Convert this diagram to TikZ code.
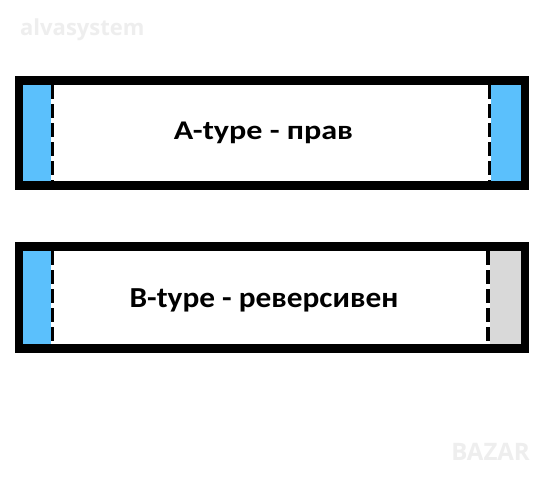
\documentclass[tikz,border=0pt]{standalone}
\usepackage{fontspec}
\setmainfont{Carlito}
\newfontfamily\wmfont{Open Sans}
\newfontfamily\fontA[FakeStretch=1.19]{Carlito}
\newfontfamily\fontB[FakeStretch=1.08]{Carlito}
\definecolor{skyfill}{RGB}{91,192,252}
\definecolor{grayfill}{RGB}{217,217,217}
\definecolor{wmgray}{RGB}{238,238,238}
\begin{document}
\begin{tikzpicture}[x=1pt,y=-1pt,
  frame/.style={draw=black,line width=8.5pt,fill=none},
  dashline/.style={draw=black,line width=3.5pt,dash pattern=on 14pt off 5pt},
  label/.style={inner sep=0pt,anchor=base},
  wm/.style={text=wmgray,font=\wmfont\bfseries\fontsize{22}{26}\selectfont,inner sep=0pt}]
\useasboundingbox (0,0) rectangle (542,480);
\fill[white] (0,0) rectangle (542,480);
% watermark
\node[wm,anchor=west] (wmA) at (20,30) {alvasystem};
\node[wm,anchor=east,font=\wmfont\bfseries\fontsize{24}{28}\selectfont] (wmB) at (530,452) {BAZAR};
% Box A
\fill[skyfill] (23,85) rectangle (51,181) coordinate (aLblue);
\fill[skyfill] (491,85) rectangle (521,181) coordinate (aRblue);
\coordinate (aL1) at (52.5,85); \coordinate (aL2) at (52.5,181);
\coordinate (aR1) at (489.5,85); \coordinate (aR2) at (489.5,181);
\draw[dashline] (aL1) -- (aL2);
\draw[dashline] (aR1) -- (aR2);
\node[frame,minimum width=506pt,minimum height=105pt,inner sep=0pt] (boxA) at (272,133) {};
\node[label,font=\fontA\bfseries\fontsize{27}{32}\selectfont] (txtA) at (263.5,139.3) {A-type - прав};
% Box B
\fill[skyfill] (23,251) rectangle (51,344);
\fill[grayfill] (490,251) rectangle (521,344);
\coordinate (bL1) at (52.5,251); \coordinate (bL2) at (52.5,344);
\coordinate (bR1) at (488,251); \coordinate (bR2) at (488,344);
\draw[dashline] (bL1) -- (bL2);
\draw[dashline] (bR1) -- (bR2);
\node[frame,minimum width=506pt,minimum height=102pt,inner sep=0pt] (boxB) at (272,297.5) {};
\node[label,font=\fontB\bfseries\fontsize{29}{34}\selectfont] (txtB) at (264,307.7) {B-type - реверсивен};
\end{tikzpicture}
\end{document}
